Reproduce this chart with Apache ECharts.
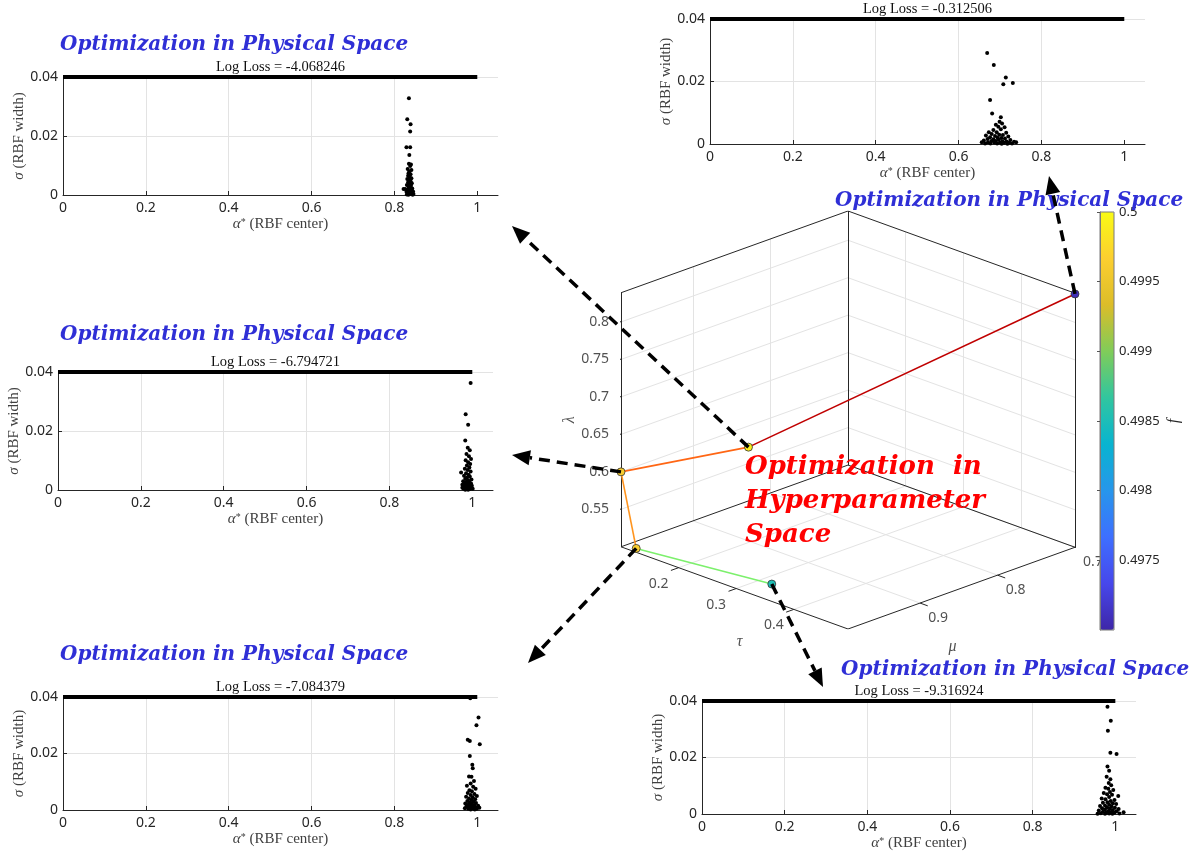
<!DOCTYPE html>
<html>
<head>
<meta charset="utf-8">
<script src="https://cdn.jsdelivr.net/npm/echarts@6/dist/echarts.min.js"></script>
<style>
  html, body { margin: 0; padding: 0; background: #fff; }
  #main { width: 1192px; height: 858px; }
</style>
</head>
<body>
<div id="main"></div>
<script>
// ---------- Hyperparameter iterates (step 1 .. step 5) ----------
const logLoss     = ['-9.316924', '-7.084379', '-6.794721', '-4.068246', '-0.312506'];
const hyperTau    = [0.320, 0.117, 0.100, 0.250, 0.494];
const hyperMu     = [0.962, 0.986, 0.993, 0.940, 0.700];
const hyperLambda = [0.500, 0.500, 0.600, 0.655, 0.838];
const hyperF      = [0.49852, 0.49966, 0.49962, 0.49990, 0.49708];

// axis limits and ticks of the hyperparameter box
const tauLim = [0.10, 0.494], muLim = [0.70, 0.993], lambdaLim = [0.50, 0.839];
const tauTicks = [0.2, 0.3, 0.4];
const muTicks = [0.7, 0.8, 0.9];
const lambdaTicks = [0.55, 0.6, 0.65, 0.7, 0.75, 0.8];
const fLim = [0.497, 0.5];

// ---------- RBF centres (alpha*) and widths (sigma) at each step ----------
const inactiveRow = [[0, 0.04], [1, 0.04]];
const rbfStep1 = [[0.981,0.0380],[0.989,0.0330],[0.982,0.0295],[0.988,0.0217],[1.003,0.0212],[0.981,0.0168],[0.985,0.0153],[0.979,0.0132],[0.988,0.0123],[0.984,0.0110],[0.990,0.0102],[0.976,0.0093],[0.983,0.0089],[0.995,0.0085],[0.987,0.0078],[0.972,0.0074],[0.980,0.0070],[0.992,0.0068],[1.007,0.0064],[0.985,0.0060],[0.967,0.0055],[0.976,0.0052],[0.998,0.0050],[0.989,0.0046],[0.981,0.0042],[0.970,0.0040],[0.994,0.0038],[1.002,0.0035],[0.985,0.0033],[0.975,0.0030],[0.963,0.0028],[0.991,0.0027],[0.980,0.0024],[0.999,0.0022],[0.968,0.0020],[0.987,0.0019],[1.008,0.0018],[0.975,0.0016],[0.994,0.0014],[0.960,0.0012],[0.983,0.0011],[1.003,0.0010],[0.970,0.0008],[0.990,0.0007],[1.020,0.0006],[0.978,0.0005],[0.998,0.0004],[0.965,0.0003],[0.985,0.0002],[1.010,0.0002],[0.957,0.0001],[0.993,0.0001],[0.975,0.0001]];
const rbfStep2 = [[0.983,0.0396],[1.003,0.0327],[0.998,0.0300],[0.977,0.0249],[0.982,0.0244],[1.006,0.0233],[0.982,0.0191],[0.988,0.0160],[0.989,0.0148],[0.980,0.0119],[0.986,0.0118],[0.992,0.0103],[0.984,0.0094],[0.975,0.0086],[0.990,0.0082],[0.996,0.0075],[0.981,0.0070],[0.987,0.0066],[0.977,0.0060],[0.993,0.0057],[0.984,0.0053],[0.999,0.0050],[0.973,0.0047],[0.989,0.0045],[0.980,0.0041],[0.995,0.0038],[0.986,0.0035],[0.976,0.0032],[0.991,0.0030],[0.982,0.0027],[0.997,0.0025],[0.971,0.0023],[0.987,0.0022],[0.978,0.0019],[0.993,0.0018],[0.983,0.0016],[1.002,0.0015],[0.974,0.0013],[0.989,0.0012],[0.980,0.0010],[0.996,0.0009],[0.985,0.0007],[0.970,0.0006],[0.991,0.0005],[0.978,0.0004],[0.999,0.0004],[0.984,0.0002],[0.994,0.0002],[1.005,0.0008]];
const rbfStep3 = [[0.996,0.0363],[0.984,0.0257],[0.990,0.0221],[0.983,0.0168],[0.989,0.0143],[0.994,0.0135],[0.986,0.0122],[0.992,0.0114],[0.997,0.0105],[0.984,0.0101],[0.990,0.0094],[0.995,0.0088],[0.987,0.0083],[0.993,0.0076],[0.982,0.0072],[0.989,0.0068],[0.996,0.0063],[0.973,0.0059],[0.985,0.0057],[0.991,0.0052],[0.980,0.0048],[0.994,0.0046],[0.987,0.0042],[0.983,0.0038],[0.998,0.0036],[0.990,0.0033],[0.978,0.0030],[0.986,0.0028],[0.993,0.0026],[0.981,0.0023],[0.997,0.0022],[0.988,0.0020],[0.976,0.0018],[0.984,0.0016],[0.992,0.0015],[0.999,0.0014],[0.980,0.0012],[0.988,0.0011],[0.995,0.0010],[0.976,0.0008],[0.984,0.0007],[0.991,0.0006],[0.998,0.0006],[0.979,0.0004],[0.987,0.0003],[0.994,0.0003],[1.001,0.0004],[0.983,0.0001],[0.990,0.0001]];
const rbfStep4 = [[0.835,0.0328],[0.831,0.0257],[0.839,0.0240],[0.838,0.0215],[0.829,0.0162],[0.838,0.0162],[0.836,0.0136],[0.835,0.0106],[0.840,0.0103],[0.838,0.0098],[0.832,0.0088],[0.841,0.0085],[0.836,0.0080],[0.834,0.0074],[0.839,0.0070],[0.833,0.0065],[0.837,0.0061],[0.841,0.0057],[0.831,0.0054],[0.835,0.0050],[0.839,0.0047],[0.833,0.0043],[0.842,0.0040],[0.836,0.0037],[0.830,0.0034],[0.840,0.0031],[0.834,0.0028],[0.838,0.0025],[0.843,0.0022],[0.826,0.0020],[0.822,0.0020],[0.832,0.0018],[0.836,0.0016],[0.841,0.0014],[0.845,0.0012],[0.829,0.0011],[0.834,0.0009],[0.838,0.0008],[0.843,0.0007],[0.832,0.0005],[0.836,0.0004],[0.840,0.0003],[0.846,0.0003],[0.830,0.0002],[0.834,0.0001],[0.844,0.0001]];
const rbfStep5 = [[0.669,0.0291],[0.685,0.0253],[0.714,0.0213],[0.708,0.0191],[0.731,0.0195],[0.676,0.0141],[0.681,0.0098],[0.702,0.0086],[0.699,0.0071],[0.705,0.0066],[0.690,0.0062],[0.711,0.0054],[0.696,0.0055],[0.684,0.0045],[0.702,0.0047],[0.673,0.0038],[0.692,0.0038],[0.715,0.0036],[0.680,0.0032],[0.698,0.0030],[0.707,0.0029],[0.666,0.0027],[0.688,0.0026],[0.720,0.0024],[0.676,0.0022],[0.694,0.0020],[0.703,0.0019],[0.712,0.0018],[0.670,0.0016],[0.684,0.0015],[0.697,0.0014],[0.725,0.0013],[0.661,0.0011],[0.679,0.0010],[0.690,0.0010],[0.706,0.0009],[0.716,0.0008],[0.656,0.0006],[0.671,0.0006],[0.686,0.0005],[0.700,0.0005],[0.710,0.0004],[0.722,0.0004],[0.734,0.0007],[0.739,0.0006],[0.664,0.0002],[0.677,0.0002],[0.693,0.0002],[0.704,0.0001],[0.718,0.0001],[0.729,0.0002]];
const rbfSteps = [rbfStep1, rbfStep2, rbfStep3, rbfStep4, rbfStep5];

const alphaTicks = [0, 0.2, 0.4, 0.6, 0.8, 1];

// ---------- styling / layout ----------
const segmentColors = ['#7cf06c', '#ff941e', '#ff6614', '#c00000'];
const parula = ['#3e26a8', '#4747eb', '#3e6fff', '#2796eb', '#08b4d0', '#31c69f', '#80cc59', '#dcbd29', '#fccf30', '#f9fb14'];
const INK = '#262626', LABEL = '#404040', GRIDC = '#e3e3e3';
const FONT_TICK = '"Noto Sans", "DejaVu Sans", sans-serif';
const FONT_TEX = '"Liberation Serif", "DejaVu Serif", serif';
const FONT_BANNER = '"DejaVu Serif", serif';

const panelGrids = [
  { left: 702, top: 701, width: 434, height: 113 },
  { left: 63,  top: 697, width: 435, height: 113 },
  { left: 58,  top: 372, width: 435, height: 118 },
  { left: 63,  top: 77,  width: 435, height: 118 },
  { left: 710, top: 19,  width: 435, height: 125 }
];
const bannerAt = [[841, 670], [60, 655], [60, 335], [60, 45], [835, 201]];
const arrowTips = [[823, 687], [528, 663], [512, 455], [512, 226], [1049, 176]];
const boxGrid = { left: 621, top: 211, width: 454, height: 418 };
const colorbarGrid = { left: 1100, top: 212, width: 14, height: 418 };
const PX_PER_UNIT = boxGrid.width / 2;

// oblique projection of the (tau, mu, lambda) box onto the page
const VIEW = { tau: [1, -0.362], mu: [-1, -0.360], lam: [0, 1.119] };
function proj(t, m, l) {
  const a = (t - tauLim[0]) / (tauLim[1] - tauLim[0]);
  const b = (m - muLim[0]) / (muLim[1] - muLim[0]);
  const c = (l - lambdaLim[0]) / (lambdaLim[1] - lambdaLim[0]);
  return [a * VIEW.tau[0] + b * VIEW.mu[0] + c * VIEW.lam[0],
          a * VIEW.tau[1] + b * VIEW.mu[1] + c * VIEW.lam[1]];
}
const seg = (p, q) => ({ coords: [proj(...p), proj(...q)] });
// shift a projected point by a pixel offset (x right, y down)
const nudge = (p, dx, dy) => [p[0] + dx / PX_PER_UNIT, p[1] - dy / PX_PER_UNIT];

const fmtNum = v => (Math.abs(v) < 1e-12 ? '0' : String(+v.toFixed(4)));

const chart = echarts.init(document.getElementById('main'));

const grids = [], xAxes = [], yAxes = [], series = [];

const texRich = {
  i: { fontFamily: FONT_TEX, fontStyle: 'italic', fontSize: 15, color: LABEL },
  s: { fontFamily: FONT_TEX, fontSize: 10, color: LABEL, verticalAlign: 'top' },
  r: { fontFamily: FONT_TEX, fontSize: 15, color: LABEL }
};

// ---------- five physical-space panels ----------
panelGrids.forEach((g, i) => {
  grids.push(Object.assign({ containLabel: false }, g));
  xAxes.push({
    gridIndex: i, type: 'value', min: 0, max: 1.05, interval: 0.2,
    axisLine: { show: true, lineStyle: { color: INK, width: 1 } },
    axisTick: { show: true, inside: true, length: 4, customValues: alphaTicks, lineStyle: { color: INK } },
    axisLabel: { customValues: alphaTicks, formatter: fmtNum, color: INK, fontSize: 14, fontFamily: FONT_TICK, margin: 6 },
    splitLine: { show: true, showMaxLine: false, lineStyle: { color: GRIDC } },
    name: '{i|α}{s|*}{r| (RBF center)}', nameLocation: 'middle', nameGap: 22,
    nameTextStyle: { rich: texRich }
  });
  yAxes.push({
    gridIndex: i, type: 'value', min: 0, max: 0.04, interval: 0.02,
    axisLine: { show: true, lineStyle: { color: INK, width: 1 } },
    axisTick: { show: true, inside: true, length: 4, lineStyle: { color: INK } },
    axisLabel: { formatter: fmtNum, color: INK, fontSize: 14, fontFamily: FONT_TICK, margin: 5 },
    splitLine: { show: true, showMinLine: false, lineStyle: { color: GRIDC } },
    name: '{i|σ}{r| (RBF width)}', nameLocation: 'middle', nameGap: 33, nameRotate: 90,
    nameTextStyle: { rich: texRich }
  });
  series.push({
    type: 'line', xAxisIndex: i, yAxisIndex: i, data: inactiveRow, symbol: 'none',
    clip: false, silent: true, lineStyle: { color: '#000', width: 4 }, z: 3
  });
  series.push({
    type: 'scatter', xAxisIndex: i, yAxisIndex: i, data: rbfSteps[i], symbolSize: 4,
    clip: false, silent: true, itemStyle: { color: '#000', opacity: 1 }, z: 4
  });
});

// ---------- hyperparameter box (grid index 5) ----------
const B = 5;
grids.push(Object.assign({}, boxGrid));
xAxes.push({ gridIndex: B, type: 'value', min: -1, max: 1, show: false });
yAxes.push({ gridIndex: B, type: 'value', min: VIEW.tau[1] + VIEW.mu[1], max: VIEW.lam[1], show: false });

const [t0, t1] = tauLim, [m0, m1] = muLim, [l0, l1] = lambdaLim;
const gridLines = [];
lambdaTicks.forEach(l => { gridLines.push(seg([t0, m1, l], [t0, m0, l])); gridLines.push(seg([t0, m0, l], [t1, m0, l])); });
muTicks.forEach(m => { gridLines.push(seg([t0, m, l0], [t0, m, l1])); gridLines.push(seg([t0, m, l0], [t1, m, l0])); });
tauTicks.forEach(t => { gridLines.push(seg([t, m0, l0], [t, m0, l1])); gridLines.push(seg([t, m0, l0], [t, m1, l0])); });

const boxEdges = [
  seg([t0, m1, l0], [t0, m1, l1]), seg([t1, m0, l0], [t1, m0, l1]), seg([t0, m0, l0], [t0, m0, l1]),
  seg([t0, m1, l1], [t0, m0, l1]), seg([t0, m0, l1], [t1, m0, l1]),
  seg([t0, m1, l0], [t0, m0, l0]), seg([t0, m0, l0], [t1, m0, l0]),
  seg([t0, m1, l0], [t1, m1, l0]), seg([t1, m1, l0], [t1, m0, l0])
];

// short outward tick marks
const TK = 0.036;
const tickMarks = [];
const norm = v => { const n = Math.hypot(v[0], v[1]); return [v[0] / n, v[1] / n]; };
const dTau = norm(VIEW.tau), dMu = norm(VIEW.mu);
const tickSeg = (p, d) => ({ coords: [p, [p[0] + d[0] * TK, p[1] + d[1] * TK]] });
lambdaTicks.forEach(l => tickMarks.push(tickSeg(proj(t0, m1, l), [-dTau[0], -dTau[1]])));
tauTicks.forEach(t => tickMarks.push(tickSeg(proj(t, m1, l0), dMu)));
muTicks.forEach(m => tickMarks.push(tickSeg(proj(t1, m, l0), dTau)));

const tickLabelStyle = { color: INK, fontSize: 14, fontFamily: FONT_TICK };
const boxLabels = [];
lambdaTicks.forEach(l => boxLabels.push({ value: nudge(proj(t0, m1, l), -12, 0), label: Object.assign({ formatter: fmtNum(l), align: 'right', verticalAlign: 'middle' }, tickLabelStyle) }));
tauTicks.forEach(t => boxLabels.push({ value: nudge(proj(t, m1, l0), -20, 16), label: Object.assign({ formatter: fmtNum(t), align: 'center', verticalAlign: 'middle' }, tickLabelStyle) }));
muTicks.forEach(m => boxLabels.push({ value: nudge(proj(t1, m, l0), 18, 15), label: Object.assign({ formatter: fmtNum(m), align: 'center', verticalAlign: 'middle' }, tickLabelStyle) }));
const axisNameStyle = { color: INK, fontSize: 16, fontFamily: FONT_TEX, fontStyle: 'italic' };
boxLabels.push({ value: nudge(proj((t0 + t1) / 2, m1, l0), 5, 54), label: Object.assign({ formatter: 'τ', align: 'center', verticalAlign: 'middle' }, axisNameStyle) });
boxLabels.push({ value: nudge(proj(t1, (m0 + m1) / 2, l0), -9, 59), label: Object.assign({ formatter: 'μ', align: 'center', verticalAlign: 'middle' }, axisNameStyle) });
boxLabels.push({ value: nudge(proj(t0, m1, (l0 + l1) / 2), -51, 0), label: Object.assign({ formatter: 'λ', align: 'center', verticalAlign: 'middle', rotate: 90 }, axisNameStyle) });

series.push({ type: 'lines', coordinateSystem: 'cartesian2d', xAxisIndex: B, yAxisIndex: B, silent: true, z: 1,
  data: gridLines, lineStyle: { color: GRIDC, width: 1, opacity: 1 } });
series.push({ type: 'lines', coordinateSystem: 'cartesian2d', xAxisIndex: B, yAxisIndex: B, silent: true, z: 2,
  data: boxEdges.concat(tickMarks), lineStyle: { color: INK, width: 1, opacity: 1 } });
series.push({ type: 'scatter', xAxisIndex: B, yAxisIndex: B, silent: true, symbolSize: 1, clip: false,
  itemStyle: { color: 'rgba(0,0,0,0)' }, label: { show: true, position: 'inside' }, data: boxLabels, z: 2 });

const pathPts = hyperTau.map((t, i) => proj(t, hyperMu[i], hyperLambda[i]));
series.push({ type: 'lines', coordinateSystem: 'cartesian2d', xAxisIndex: B, yAxisIndex: B, silent: true, z: 5,
  data: pathPts.slice(0, -1).map((p, i) => ({ coords: [p, pathPts[i + 1]], lineStyle: { color: segmentColors[i] } })),
  lineStyle: { width: 1.6, opacity: 1 } });
const pointSeriesIndex = series.length;
series.push({ type: 'scatter', xAxisIndex: B, yAxisIndex: B, silent: true, clip: false, z: 6, symbolSize: 8,
  itemStyle: { borderColor: '#333', borderWidth: 0.8, opacity: 1 },
  data: pathPts.map((p, i) => [p[0], p[1], hyperF[i]]) });

// ---------- colour bar (grid index 6) ----------
const C = 6;
grids.push(Object.assign({ show: true, borderColor: '#7a7a7a', borderWidth: 1, backgroundColor: 'transparent', z: 10 }, colorbarGrid));
xAxes.push({ gridIndex: C, type: 'value', min: 0, max: 1, show: false });
yAxes.push({
  gridIndex: C, type: 'value', position: 'right', min: fLim[0], max: fLim[1], interval: 0.0005, z: 10,
  axisLine: { show: true, lineStyle: { color: '#7a7a7a' } },
  axisTick: { show: true, inside: true, length: 3, lineStyle: { color: '#555' } },
  axisLabel: { showMinLabel: false, formatter: fmtNum, color: INK, fontSize: 13, fontFamily: FONT_TICK, margin: 5 },
  splitLine: { show: false },
  name: 'f', nameLocation: 'middle', nameGap: 52, nameRotate: 90,
  nameTextStyle: { fontFamily: FONT_TEX, fontStyle: 'italic', fontSize: 16, color: INK }
});

chart.setOption({
  animation: false,
  backgroundColor: '#fff',
  grid: grids, xAxis: xAxes, yAxis: yAxes, series: series,
  visualMap: [{
    type: 'continuous', seriesIndex: pointSeriesIndex, dimension: 2,
    min: fLim[0], max: fLim[1], inRange: { color: parula },
    orient: 'vertical', left: colorbarGrid.left, top: colorbarGrid.top,
    itemWidth: colorbarGrid.width, itemHeight: colorbarGrid.height,
    calculable: false, hoverLink: false, padding: 0, text: null, z: 4
  }]
});

// ---------- headings, annotation text and arrows ----------
const graphics = [];
const addText = (x, y, text, font, fill, align) => graphics.push({
  type: 'text', x: x, y: y, z: 50, silent: true,
  style: { text: text, font: font, fill: fill, align: align, textAlign: align, verticalAlign: 'middle', textVerticalAlign: 'middle' }
});
panelGrids.forEach((g, i) => {
  addText(g.left + g.width / 2, g.top - 10, 'Log Loss = ' + logLoss[i], '14.5px ' + FONT_TEX, '#111', 'center');
  addText(bannerAt[i][0], bannerAt[i][1], 'Optimization in Physical Space', 'italic bold 20px ' + FONT_BANNER, '#2f2fd6', 'left');
});
graphics.push({
  type: 'text', x: 745, y: 450, z: 50, silent: true,
  style: { text: 'Optimization  in\nHyperparameter\nSpace', font: 'italic bold 26px ' + FONT_BANNER, fill: '#ff0000',
           lineHeight: 34, align: 'left', textAlign: 'left', verticalAlign: 'top', textVerticalAlign: 'top' }
});

function arrow(from, to) {
  const dx = to[0] - from[0], dy = to[1] - from[1], L = Math.hypot(dx, dy);
  const ux = dx / L, uy = dy / L, head = 18, half = 7.5;
  const bx = to[0] - ux * head, by = to[1] - uy * head;
  return [
    { type: 'line', z: 60, silent: true, shape: { x1: from[0], y1: from[1], x2: bx, y2: by },
      style: { stroke: '#000', lineWidth: 3.5, lineDash: [11, 7] } },
    { type: 'polygon', z: 60, silent: true,
      shape: { points: [to, [bx - uy * half, by + ux * half], [bx + uy * half, by - ux * half]] },
      style: { fill: '#000' } }
  ];
}
pathPts.forEach((p, i) => {
  const start = chart.convertToPixel({ gridIndex: B }, p);
  arrow(start, arrowTips[i]).forEach(e => graphics.push(e));
});
chart.setOption({ graphic: graphics });
</script>
</body>
</html>
